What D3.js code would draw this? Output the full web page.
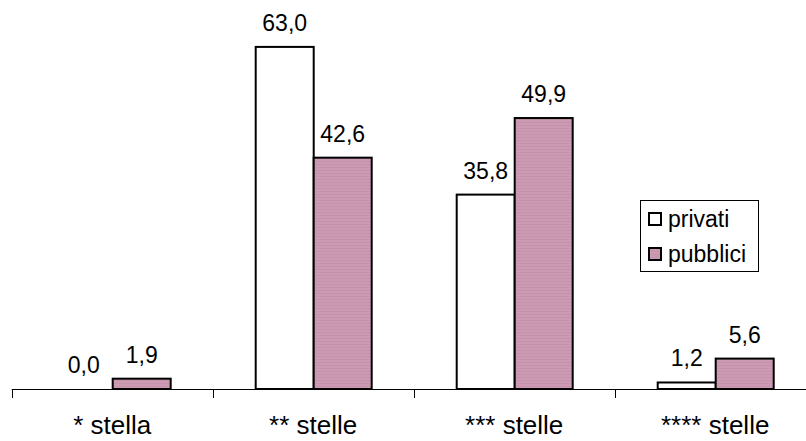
<!DOCTYPE html>
<html>
<head>
<meta charset="utf-8">
<script src="https://cdn.jsdelivr.net/npm/d3@7"></script>
<style>
  html, body { margin: 0; padding: 0; background: #fff; }
  svg { display: block; font-family: "Liberation Sans", Arial, sans-serif; }
</style>
</head>
<body>
<svg id="chart" width="806" height="441"></svg>
<script>
const categories = ["* stella", "** stelle", "*** stelle", "**** stelle"];
const seriesNames = ["privati", "pubblici"];
const privati = [0.0, 63.0, 35.8, 1.2];
const pubblici = [1.9, 42.6, 49.9, 5.6];
const seriesColors = ["#ffffff", "url(#pinkStripe)"];

const svg = d3.select("#chart");
const defs = svg.append("defs");
const pat = defs.append("pattern").attr("id", "pinkStripe")
  .attr("patternUnits", "userSpaceOnUse").attr("width", 4).attr("height", 3);
pat.append("rect").attr("width", 4).attr("height", 3).attr("fill", "#cd9ab3");
pat.append("rect").attr("y", 2).attr("width", 4).attr("height", 1).attr("fill", "#c593ab");

const baseY = 389;
const x0 = d3.scaleBand().domain(categories).range([11.7, 11.7 + 4 * 201]).padding(0);
const x1 = d3.scaleBand().domain(seriesNames).range([43, 159]).padding(0);
const y = d3.scaleLinear().domain([0, 70]).range([baseY, baseY - 70 * 5.43]);
const color = d3.scaleOrdinal().domain(seriesNames).range(seriesColors);
const fmt = v => d3.format(".1f")(v).replace(".", ",");

const data = categories.map((c, i) => ({
  cat: c,
  vals: [{s: "privati", v: privati[i]}, {s: "pubblici", v: pubblici[i]}]
}));

// axis line + ticks
svg.append("line")
  .attr("x1", x0.range()[0]).attr("x2", 806)
  .attr("y1", baseY + 0.5).attr("y2", baseY + 0.5)
  .attr("stroke", "#000").attr("stroke-width", 1);
const bounds = categories.map(c => x0(c)).concat([x0.range()[1]]);
svg.selectAll(".tick").data(bounds).enter().append("line")
  .attr("x1", d => Math.round(d) + 0.5).attr("x2", d => Math.round(d) + 0.5)
  .attr("y1", baseY).attr("y2", baseY + 9)
  .attr("stroke", "#000").attr("stroke-width", 1);

// bars
const g = svg.selectAll(".grp").data(data).enter().append("g")
  .attr("transform", d => `translate(${x0(d.cat)},0)`);
g.selectAll("rect").data(d => d.vals).enter().append("rect")
  .attr("x", d => x1(d.s))
  .attr("width", x1.bandwidth())
  .attr("y", d => y(d.v))
  .attr("height", d => baseY - y(d.v))
  .attr("fill", d => color(d.s))
  .attr("stroke", "#000")
  .attr("stroke-width", d => d.v > 0 ? 2 : 0);
g.selectAll("text").data(d => d.vals).enter().append("text")
  .attr("x", d => x1(d.s) + x1.bandwidth() / 2)
  .attr("y", d => y(d.v) - 16)
  .attr("text-anchor", "middle")
  .attr("font-size", 23)
  .attr("fill", "#000")
  .text(d => fmt(d.v));

// category labels
svg.selectAll(".cat").data(categories).enter().append("text")
  .attr("x", d => x0(d) + x0.bandwidth() / 2)
  .attr("y", 434)
  .attr("text-anchor", "middle")
  .attr("font-size", 26)
  .attr("fill", "#000")
  .text(d => d);

// legend
const lg = svg.append("g");
lg.append("rect").attr("x", 640.5).attr("y", 200.5).attr("width", 118).attr("height", 71)
  .attr("fill", "#fff").attr("stroke", "#000").attr("stroke-width", 1);
seriesNames.forEach((s, i) => {
  const yy = 213 + i * 35;
  lg.append("rect").attr("x", 649).attr("y", yy).attr("width", 12).attr("height", 12)
    .attr("fill", color(s)).attr("stroke", "#000").attr("stroke-width", 2);
  lg.append("text").attr("x", 668).attr("y", yy + 14)
    .attr("font-size", 23).attr("fill", "#000").text(s);
});
</script>
</body>
</html>
